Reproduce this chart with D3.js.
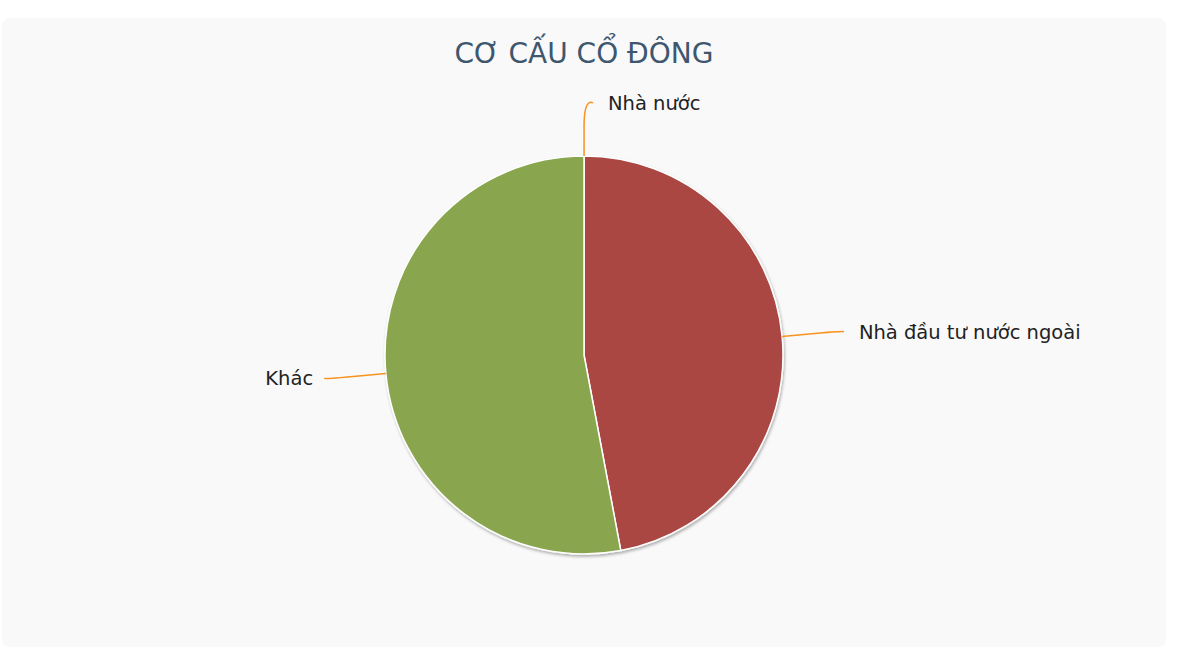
<!DOCTYPE html>
<html>
<head>
<meta charset="utf-8">
<script src="https://cdn.jsdelivr.net/npm/d3@7"></script>
<style>
  html, body { margin: 0; padding: 0; background: #fff; }
  svg { display: block; }
</style>
</head>
<body>
<svg class="svg"></svg>
<script>
// data
const categories = ["Nhà nước", "Nhà đầu tư nước ngoài", "Khác"];
const values = [0.01, 47.03, 52.96];
const colors = ["#4572A7", "#AA4643", "#89A54E"];
const title = "CƠ CẤU CỔ ĐÔNG";

const metrics = {
  width: 1188,
  height: 664,
  cx: 584,
  cy: 355,
  r: 199
};

const svg = d3.select(".svg")
  .attr("width", metrics.width)
  .attr("height", metrics.height);

// drop shadow like the original pie
const defs = svg.append("defs");
const shadow = defs.append("filter").attr("id", "shadow")
  .attr("x", "-10%").attr("y", "-10%").attr("width", "120%").attr("height", "120%");
shadow.append("feDropShadow")
  .attr("dx", 1).attr("dy", 2).attr("stdDeviation", 1.6)
  .attr("flood-color", "#000").attr("flood-opacity", 0.3);

// panel
svg.append("rect")
  .attr("x", 2).attr("y", 18)
  .attr("width", 1164).attr("height", 629)
  .attr("rx", 8)
  .attr("fill", "#f9f9f9");

svg.append("text")
  .attr("x", metrics.cx)
  .attr("y", 63)
  .attr("text-anchor", "middle")
  .attr("font-family", "'Lucida Grande', 'DejaVu Sans', sans-serif")
  .attr("font-size", 28)
  .attr("fill", "#3E576F")
  .text(title);

const data = categories.map((c, i) => ({ name: c, value: values[i], color: colors[i] }));

const pie = d3.pie().sort(null).value(d => d.value);
const arcs = pie(data);

const arc = d3.arc().innerRadius(0).outerRadius(metrics.r);

const g = svg.append("g")
  .attr("transform", `translate(${metrics.cx}, ${metrics.cy})`);

g.append("g")
  .attr("filter", "url(#shadow)")
  .selectAll("path")
  .data(arcs)
  .join("path")
  .attr("d", arc)
  .attr("fill", d => d.data.color)
  .attr("stroke", "#fff")
  .attr("stroke-width", 1.5)
  .attr("stroke-linejoin", "round");

// labels with soft connectors
const polar = (rad, a) => [rad * Math.sin(a), -rad * Math.cos(a)];

arcs.forEach(d => {
  const a = (d.startAngle + d.endAngle) / 2;
  const side = Math.sin(a) >= 0 ? 1 : -1;
  const edge = polar(metrics.r, a);
  const brk = polar(metrics.r + 30, a);
  const endX = side * Math.max(Math.abs((metrics.r + 62) * Math.sin(a)), 9);
  const endY = -(metrics.r + 53) * Math.cos(a);
  const c2 = [2 * brk[0] - edge[0], 2 * brk[1] - edge[1]];

  g.append("path")
    .attr("d", `M${endX},${endY}C${endX},${endY} ${c2[0]},${c2[1]} ${brk[0]},${brk[1]}L${edge[0]},${edge[1]}`)
    .attr("fill", "none")
    .attr("stroke", "#F7931E")
    .attr("stroke-width", 1.5);

  g.append("text")
    .attr("x", endX + side * (side > 0 ? 15 : 11))
    .attr("y", endY)
    .attr("dy", "0.36em")
    .attr("text-anchor", side > 0 ? "start" : "end")
    .attr("font-family", "'Lucida Grande', 'DejaVu Sans', sans-serif")
    .attr("font-size", 19.5)
    .attr("fill", "#222")
    .text(d.data.name);
});
</script>
</body>
</html>
